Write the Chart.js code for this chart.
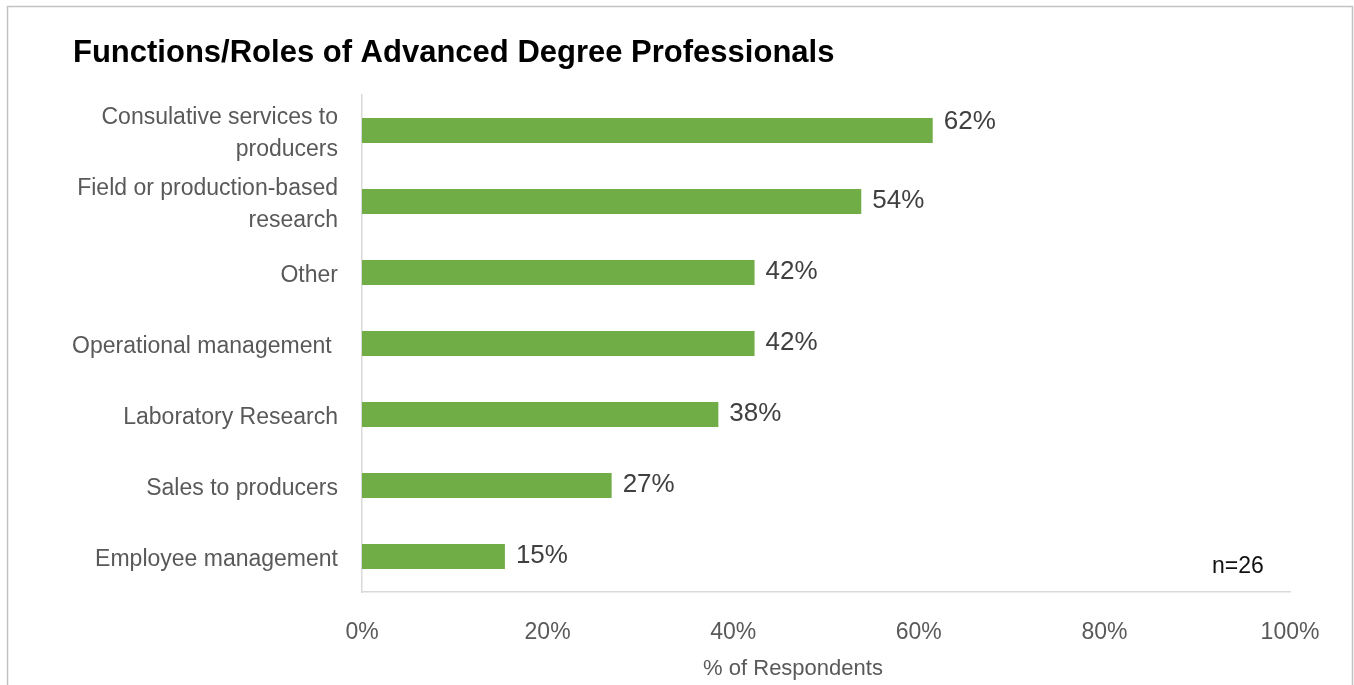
<!DOCTYPE html>
<html>
<head>
<meta charset="utf-8">
<title>Functions/Roles of Advanced Degree Professionals</title>
<script src="https://cdn.jsdelivr.net/npm/chart.js@4.4.1/dist/chart.umd.min.js"></script>
<style>
  html, body { margin: 0; padding: 0; background: #fff; }
  canvas { display: block; }
</style>
</head>
<body>
<canvas id="rolesChart" width="1354" height="685"></canvas>
<script>
// survey answers, share of respondents (n=26)
const roles = [
  ["Consulative services to", "producers"],
  ["Field or production-based", "research"],
  "Other",
  "Operational management ",
  "Laboratory Research",
  "Sales to producers",
  "Employee management"
];
const shares = [61.5, 53.8, 42.3, 42.3, 38.4, 26.9, 15.4];
const xTicks = [0, 20, 40, 60, 80, 100];

const FONT = "'Liberation Sans', Arial, sans-serif";

// title, frame, axis caption, n= note and the value labels next to each bar
const decorations = {
  id: "decorations",
  afterDraw(chart) {
    const ctx = chart.ctx;
    ctx.save();

    ctx.strokeStyle = "#c3c3c3";
    ctx.lineWidth = 1.5;
    ctx.beginPath();
    ctx.moveTo(7.5, 685);
    ctx.lineTo(7.5, 6.5);
    ctx.lineTo(1352.5, 6.5);
    ctx.lineTo(1352.5, 685);
    ctx.stroke();

    ctx.fillStyle = "#000";
    ctx.font = "bold 31px " + FONT;
    ctx.textAlign = "left";
    ctx.textBaseline = "alphabetic";
    ctx.fillText("Functions/Roles of Advanced Degree Professionals", 73, 62);

    ctx.font = "22px " + FONT;
    ctx.fillStyle = "#595959";
    ctx.textAlign = "center";
    ctx.textBaseline = "middle";
    ctx.fillText("% of Respondents", 793, 669);

    ctx.textAlign = "left";
    ctx.font = "23px " + FONT;
    ctx.fillStyle = "#111";
    ctx.fillText("n=26", 1212, 567);

    ctx.font = "26px " + FONT;
    ctx.fillStyle = "#404040";
    const meta = chart.getDatasetMeta(0);
    meta.data.forEach((bar, i) => {
      const lift = i === 0 ? 9 : 1;
      ctx.fillText(Math.round(shares[i]) + "%", bar.x + 11, bar.y - lift);
    });
    ctx.restore();
  }
};

new Chart(document.getElementById("rolesChart"), {
  type: "bar",
  data: {
    labels: roles,
    datasets: [{
      data: shares,
      backgroundColor: "#70AD47",
      borderWidth: 0,
      barPercentage: 0.35,
      categoryPercentage: 1
    }]
  },
  options: {
    indexAxis: "y",
    responsive: false,
    animation: false,
    layout: { padding: { top: 95, right: 64, left: 0, bottom: 0 } },
    plugins: {
      legend: { display: false },
      tooltip: { enabled: false }
    },
    scales: {
      x: {
        min: 0,
        max: 100,
        afterBuildTicks(scale) {
          scale.ticks = xTicks.map(v => ({ value: v }));
        },
        afterFit(scale) { scale.height = 93; },
        grid: { display: false, drawTicks: false },
        border: { display: true, color: "#d9d9d9", width: 1.5 },
        ticks: {
          padding: 27,
          color: "#595959",
          font: { family: FONT, size: 23 },
          callback: v => v + "%"
        }
      },
      y: {
        afterFit(scale) { scale.width = 362; },
        grid: { display: false, drawTicks: false },
        border: { display: true, color: "#d9d9d9", width: 1.5 },
        ticks: {
          padding: 24,
          labelOffset: 3,
          color: "#595959",
          font: { family: FONT, size: 23, lineHeight: 1.4 }
        }
      }
    }
  },
  plugins: [decorations]
});
</script>
</body>
</html>
